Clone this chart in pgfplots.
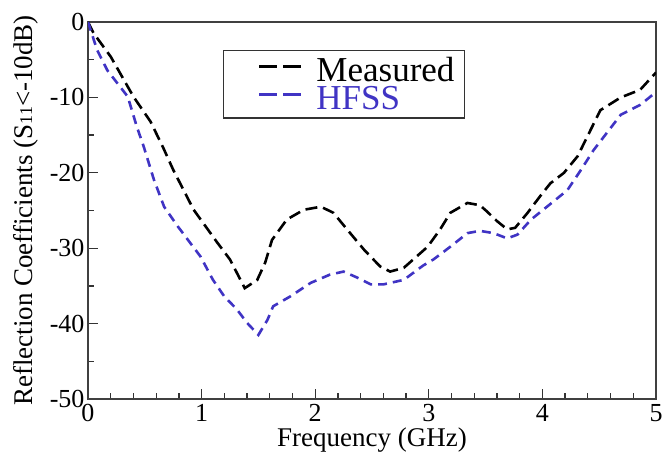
\documentclass[border=0pt]{standalone}
\usepackage{fontspec}
\setmainfont{Liberation Serif}
\usepackage{pgfplots}
\pgfplotsset{compat=1.18}
\definecolor{hfss}{RGB}{64,52,196}
\begin{document}
\begin{tikzpicture}
\begin{axis}[
  scale only axis,
  width=568pt, height=377pt,
  xmin=0, xmax=5, ymin=-50, ymax=0,
  xtick={0,1,2,3,4,5},
  ytick={-50,-40,-30,-20,-10,0},
  minor x tick num=4,
  minor y tick num=1,
  tick align=inside,
  xtick pos=bottom, ytick pos=left,
  major tick length=10pt, minor tick length=6pt,
  axis line style={black!75, line width=1.3pt},
  every tick/.style={black!80, line width=1.3pt},
  /pgf/number format/assume math mode=true,
  tick label style={font=\fontsize{26}{28}\selectfont},
  xticklabel style={yshift=-2pt},
  xlabel={Frequency (GHz)},
  ylabel={Reflection Coefficients (S{\fontsize{18}{18}\selectfont 11}<-10dB)},
  label style={font=\fontsize{27}{29}\selectfont},
  xlabel style={yshift=1pt},
  ylabel style={yshift=5pt},
  legend style={at={(axis description cs:0.238,0.926)}, anchor=north west,
    draw=black!80, line width=1.3pt, font=\fontsize{35}{36}\selectfont,
    inner xsep=9pt, inner ysep=6pt, row sep=1pt,
    nodes={inner sep=1pt}},
  legend cell align=left,
  legend image code/.code={
    \path (-25pt,0pt) (55pt,0pt);
    \draw[#1, line width=2.6pt, dash pattern=on 18pt off 6pt] (0pt,0.4em) -- (42pt,0.4em);},
]
\addplot[black, line width=2.6pt, dash pattern=on 12pt off 6pt] coordinates {
(0,0) (0.05,-1.5) (0.2,-4.6) (0.4,-9.9) (0.55,-13.2) (0.66,-16.6) (0.75,-19.6)
(0.93,-24.9) (1.14,-29.3) (1.25,-31.5) (1.38,-35.3) (1.49,-34.2) (1.56,-31.9)
(1.62,-28.9) (1.75,-26.2) (1.9,-24.9) (2.05,-24.5) (2.16,-25.3) (2.28,-27.5)
(2.43,-30.2) (2.57,-32.4) (2.66,-33.1) (2.78,-32.6) (2.99,-29.8) (3.1,-27.5)
(3.19,-25.3) (3.34,-24.0) (3.45,-24.3) (3.51,-25.1) (3.6,-26.4) (3.69,-27.5)
(3.76,-27.3) (3.87,-25.3) (3.98,-23.1) (4.07,-21.4) (4.19,-20.0) (4.31,-17.8)
(4.51,-11.7) (4.69,-10.0) (4.86,-9.0) (5,-6.7)
};
\addlegendentry{Measured}
\addplot[hfss, line width=2.6pt, dash pattern=on 9pt off 6pt] coordinates {
(0,0) (0.08,-3.7) (0.17,-6.4) (0.35,-9.9) (0.43,-13.9) (0.49,-16.5) (0.58,-20.9)
(0.67,-24.5) (0.79,-27.1) (0.99,-31.1) (1.1,-34.2) (1.2,-36.4) (1.31,-38.1)
(1.4,-39.9) (1.5,-41.5) (1.58,-39.5) (1.63,-37.7) (1.78,-36.4) (1.96,-34.6)
(2.13,-33.5) (2.25,-33.1) (2.37,-33.9) (2.49,-34.8) (2.6,-34.8) (2.78,-34.2)
(2.95,-32.3) (3.04,-31.5) (3.19,-29.8) (3.34,-28.0) (3.45,-27.7) (3.57,-28.0)
(3.69,-28.7) (3.78,-28.2) (3.9,-26.2) (4.04,-24.5) (4.22,-22.3) (4.34,-19.6)
(4.45,-17.0) (4.69,-12.3) (4.86,-11.0) (5,-9.3)
};
\addlegendentry{\textcolor{hfss}{HFSS}}
\end{axis}
\pgfresetboundingbox
\path[use as bounding box] ([shift={(-88pt,-54pt)}]current axis.south west)
  rectangle ([shift={(13pt,22pt)}]current axis.north east);
\end{tikzpicture}
\end{document}
